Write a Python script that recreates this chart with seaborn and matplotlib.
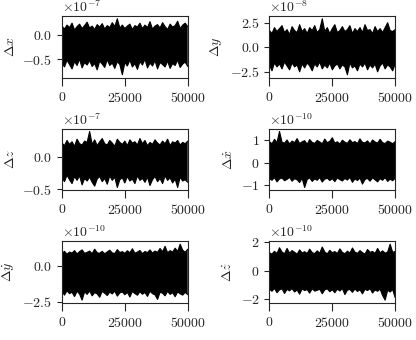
import numpy as np
import matplotlib
matplotlib.use("Agg")
import matplotlib.pyplot as plt
import seaborn as sns

# Envelope of each noise band (51 samples over 0..50000),
# values in units of the axis multiplier shown above each panel
dx_upper = [0.18, 0.12, 0.20, 0.15, 0.24, 0.10, 0.17, 0.22, 0.13, 0.19, 0.26, 0.14, 0.18, 0.11, 0.21, 0.16, 0.23,
            0.12, 0.19, 0.15, 0.25, 0.17, 0.33, 0.14, 0.20, 0.13, 0.18, 0.22, 0.11, 0.19, 0.16, 0.24, 0.13, 0.20,
            0.15, 0.27, 0.12, 0.18, 0.21, 0.14, 0.25, 0.17, 0.11, 0.22, 0.16, 0.19, 0.28, 0.13, 0.20, 0.24, 0.17]
dx_lower = [-0.58, -0.66, -0.52, -0.61, -0.70, -0.55, -0.63, -0.50, -0.68, -0.57, -0.62, -0.53, -0.65, -0.59, -0.72,
            -0.54, -0.60, -0.67, -0.51, -0.63, -0.58, -0.69, -0.55, -0.61, -0.82, -0.57, -0.64, -0.52, -0.66, -0.59,
            -0.71, -0.55, -0.62, -0.50, -0.68, -0.58, -0.64, -0.53, -0.70, -0.57, -0.61, -0.66, -0.54, -0.69, -0.59,
            -0.63, -0.52, -0.67, -0.60, -0.56, -0.65]

dy_upper = [1.7, 1.4, 2.0, 1.6, 1.9, 2.2, 1.5, 1.8, 1.3, 2.1, 1.7, 1.5, 2.3, 1.6, 1.9, 1.4, 2.0, 1.7, 2.2, 1.5, 1.8,
            2.9, 1.6, 2.0, 1.4, 1.9, 2.3, 1.5, 1.7, 2.1, 1.6, 1.8, 2.2, 1.4, 1.9, 1.6, 2.0, 1.5, 2.3, 1.7, 1.8, 1.4,
            2.1, 1.6, 1.9, 1.5, 2.0, 2.5, 1.7, 1.6, 1.8]
dy_lower = [-1.8, -2.4, -1.6, -2.0, -1.7, -2.2, -1.5, -1.9, -2.3, -1.6, -2.0, -1.8, -2.5, -1.7, -2.1, -1.6, -1.9,
            -2.4, -1.7, -2.0, -1.5, -2.2, -1.8, -2.1, -1.6, -2.3, -1.9, -1.7, -2.2, -1.8, -2.0, -2.8, -1.6, -2.1,
            -1.9, -2.4, -1.7, -2.0, -1.6, -2.3, -1.8, -2.1, -1.7, -2.5, -1.9, -1.6, -2.2, -1.8, -2.0, -2.4, -1.7]

dz_upper = [0.22, 0.18, 0.26, 0.20, 0.24, 0.17, 0.28, 0.21, 0.19, 0.25, 0.23, 0.40, 0.20, 0.27, 0.18, 0.24, 0.29,
            0.21, 0.19, 0.26, 0.22, 0.17, 0.28, 0.23, 0.20, 0.25, 0.18, 0.27, 0.22, 0.24, 0.19, 0.29, 0.21, 0.26,
            0.18, 0.23, 0.20, 0.27, 0.22, 0.19, 0.25, 0.21, 0.28, 0.18, 0.24, 0.22, 0.26, 0.19, 0.23, 0.21, 0.25]
dz_lower = [-0.32, -0.38, -0.28, -0.35, -0.41, -0.30, -0.36, -0.29, -0.43, -0.33, -0.37, -0.31, -0.39, -0.45, -0.34,
            -0.30, -0.38, -0.33, -0.42, -0.29, -0.36, -0.31, -0.47, -0.35, -0.32, -0.40, -0.30, -0.37, -0.34, -0.41,
            -0.29, -0.36, -0.33, -0.39, -0.31, -0.44, -0.35, -0.30, -0.38, -0.33, -0.41, -0.29, -0.36, -0.32, -0.40,
            -0.34, -0.47, -0.31, -0.37, -0.35, -0.39]

dxd_upper = [0.95, 0.85, 1.05, 0.90, 1.40, 0.92, 0.88, 1.02, 0.84, 0.97, 0.90, 1.08, 0.86, 0.94, 0.99, 0.83, 1.04,
             0.91, 0.87, 1.00, 0.93, 0.85, 1.06, 0.90, 0.96, 1.12, 0.88, 0.94, 0.84, 1.01, 0.92, 0.87, 1.03, 0.90,
             0.95, 0.86, 1.07, 0.91, 0.89, 0.98, 0.84, 1.02, 0.93, 0.88, 1.05, 0.90, 0.86, 0.97, 0.92, 0.85, 0.95]
dxd_lower = [-0.70, -0.78, -0.66, -0.85, -0.72, -0.68, -0.80, -0.74, -0.65, -0.82, -0.71, -0.76, -0.88, -0.69, -1.10,
             -0.75, -0.67, -0.83, -0.72, -0.78, -0.66, -0.86, -0.73, -0.69, -0.79, -0.71, -0.84, -0.67, -0.75, -0.81,
             -0.70, -0.77, -0.65, -0.87, -0.72, -0.79, -0.68, -0.95, -0.74, -0.70, -0.82, -0.67, -0.76, -0.85, -0.71,
             -0.78, -0.66, -0.83, -0.73, -0.80, -0.69]

dyd_upper = [0.85, 1.00, 0.80, 0.95, 0.88, 1.05, 0.82, 0.98, 1.10, 0.86, 0.93, 1.02, 0.84, 1.15, 0.90, 0.87, 1.00,
             0.83, 0.96, 1.08, 0.89, 0.85, 1.12, 0.92, 0.98, 0.86, 1.04, 0.90, 1.18, 0.87, 0.95, 1.06, 0.84, 0.99,
             0.91, 1.10, 0.88, 1.02, 0.93, 1.20, 0.97, 1.35, 0.90, 1.05, 0.95, 1.22, 0.99, 1.50, 1.08, 0.93, 1.15]
dyd_lower = [-1.80, -2.05, -1.75, -1.95, -1.85, -2.15, -1.78, -1.98, -2.40, -1.82, -2.00, -1.76, -2.10, -1.88, -1.96,
             -2.20, -1.79, -1.92, -2.08, -1.84, -1.97, -1.77, -2.12, -1.90, -1.83, -2.02, -1.86, -2.18, -1.80, -1.94,
             -2.06, -1.81, -1.99, -1.87, -2.14, -1.78, -1.95, -2.03, -2.35, -1.85, -1.92, -2.10, -1.79, -2.00, -1.88,
             -2.16, -1.83, -1.96, -2.05, -1.86, -2.02]

dzd_upper = [1.25, 1.15, 1.35, 1.20, 1.60, 1.30, 1.18, 1.55, 1.22, 1.40, 1.28, 1.15, 1.45, 1.24, 1.32, 1.20, 1.50,
             1.26, 1.19, 1.38, 1.22, 1.65, 1.30, 1.17, 1.42, 1.25, 1.33, 1.20, 1.52, 1.27, 1.18, 1.36, 1.23, 1.58,
             1.29, 1.21, 1.40, 1.25, 1.16, 1.48, 1.28, 1.34, 1.20, 1.55, 1.24, 1.38, 1.22, 1.30, 1.85, 1.27, 1.35]
dzd_lower = [-1.30, -1.45, -1.25, -1.55, -1.35, -1.28, -1.60, -1.32, -1.42, -1.26, -1.50, -1.36, -1.65, -1.29, -1.40,
             -1.33, -1.58, -1.27, -1.44, -1.38, -1.31, -1.62, -1.35, -1.28, -1.48, -1.34, -1.55, -1.30, -1.43, -1.26,
             -1.68, -1.37, -1.32, -1.52, -1.29, -1.46, -1.35, -1.63, -1.31, -1.40, -1.27, -1.57, -1.36, -1.45, -1.30,
             -1.75, -2.07, -1.38, -1.50, -1.33, -1.90]

labels = [r"$\Delta x$", r"$\Delta y$", r"$\Delta z$", r"$\Delta \dot{x}$", r"$\Delta \dot{y}$", r"$\Delta \dot{z}$"]
exponents = [-7, -8, -7, -10, -10, -10]
yticks = [[-0.5, 0.0], [-2.5, 0.0, 2.5], [-0.5, 0.0], [-1, 0, 1], [-2.5, 0.0], [-2, 0, 2]]
bands = [(dx_upper, dx_lower), (dy_upper, dy_lower), (dz_upper, dz_lower),
         (dxd_upper, dxd_lower), (dyd_upper, dyd_lower), (dzd_upper, dzd_lower)]
N_STEPS = 50000
xticks = [0, 25000, 50000]

sns.set_style("ticks")
plt.rcParams.update({
    "font.family": "serif",
    "font.serif": ["cmr10"],
    "mathtext.fontset": "cm",
    "axes.formatter.use_mathtext": True,
    "font.size": 10,
    "axes.linewidth": 0.8,
    "xtick.major.size": 6,
    "ytick.major.size": 3.5,
})

fig, axes = plt.subplots(3, 2, figsize=(4.16, 3.4), dpi=100)
fig.subplots_adjust(left=0.149, right=0.95, top=0.953, bottom=0.109, wspace=0.65, hspace=0.83)

for ax, (up, lo), lab, ex, yt in zip(axes.flat, bands, labels, exponents, yticks):
    sc = 10.0 ** ex
    up = np.array(up) * sc
    lo = np.array(lo) * sc
    xu = np.linspace(0, N_STEPS, len(up))
    xl = np.linspace(0, N_STEPS, len(lo))
    # filled band between the two envelopes
    ax.fill(np.concatenate([xu, xl[::-1]]), np.concatenate([up, lo[::-1]]), color="black", lw=0)
    sns.lineplot(x=xu, y=up, ax=ax, color="black", lw=0.8)
    sns.lineplot(x=xl, y=lo, ax=ax, color="black", lw=0.8)
    ax.set_xlim(0, N_STEPS)
    ax.set_xticks(xticks)
    ax.set_yticks(np.array(yt) * sc)
    ax.set_ylabel(lab)
    ax.ticklabel_format(axis="y", style="sci", scilimits=(ex, ex), useMathText=True)

plt.savefig("out.png", dpi=100)
